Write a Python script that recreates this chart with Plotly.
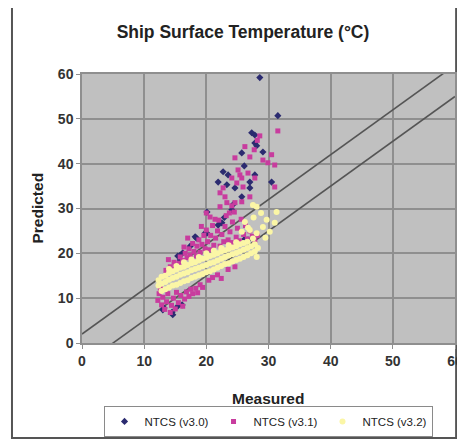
import plotly.graph_objects as go

# ---- data ----
v30_x = [28.6, 31.5, 27.3, 27.8, 27.8, 28.1, 25.7, 29.1, 22.7, 23.5, 27.8, 27.0, 27.0, 21.9, 23.3,
         24.6, 30.5, 25.7, 20.1, 24.1, 22.5, 21.9, 19.8, 18.2, 26.7, 15.8, 16.2, 18.4, 20.1, 15.4,
         15.8, 26.2, 13.0, 14.5, 16.1, 15.4, 14.6, 13.2, 24.4, 26.1, 22.9, 17.4]
v30_y = [59.2, 50.7, 46.9, 46.4, 44.6, 44.0, 42.4, 42.6, 38.2, 37.5, 37.5, 35.9, 34.6, 35.9, 35.3,
         34.6, 35.9, 32.6, 29.2, 29.7, 26.8, 26.3, 24.5, 23.7, 23.0, 19.6, 20.1, 23.4, 24.5, 19.4,
         18.5, 23.2, 7.4, 6.9, 8.5, 8.2, 6.3, 7.8, 31.0, 39.5, 28.0, 21.6]

v31_x = [12.2, 12.4, 12.8, 13.0, 13.3, 13.6, 13.8, 14.2, 14.4, 14.7, 15.0, 15.2, 15.5, 15.9, 16.2,
         16.5, 16.8, 17.2, 17.5, 17.8, 18.3, 18.6, 19.0, 19.4, 20.4, 21.0, 21.8, 22.4, 23.5, 24.6,
         13.5, 14.2, 14.8, 15.0, 15.6, 15.8, 16.2, 16.6, 16.9, 17.2, 17.4, 17.8, 18.0, 18.4, 18.5,
         18.8, 19.0, 19.3, 19.6, 19.8, 20.0, 20.2, 20.5, 20.7, 21.0, 21.2, 21.5, 21.8, 22.0, 22.2,
         22.5, 22.8, 23.0, 23.2, 23.5, 23.8, 24.0, 24.2, 24.5, 24.8, 25.0, 25.3, 25.6, 26.0, 26.3,
         26.6, 27.0, 27.4, 27.8, 28.2,
         24.6, 27.0, 29.1, 30.5, 31.0, 25.1, 25.4, 26.7, 24.1, 25.7, 27.8, 22.7, 24.9, 25.9, 31.0,
         22.2, 23.0, 23.3, 24.6, 27.0, 24.1, 25.7, 20.6, 21.4, 23.7, 31.5, 28.6, 27.7, 29.9, 26.2,
         28.2, 22.2, 20.0, 19.2, 17.0, 16.4, 13.9, 12.6]
v31_y = [9.5, 11.0, 8.5, 10.2, 7.5, 9.2, 11.0, 6.8, 8.4, 10.0, 7.6, 11.3, 9.0, 10.6, 8.2,
         9.8, 11.4, 10.4, 12.0, 11.0, 12.2, 11.2, 13.0, 12.4, 14.0, 14.6, 15.2, 14.4, 16.4, 17.0,
         16.2, 17.0, 18.0, 16.8, 17.8, 19.2, 18.4, 20.0, 19.0, 21.0, 19.6, 22.2, 20.4, 19.4, 21.6,
         23.0, 20.2, 22.0, 24.0, 21.0, 25.2, 22.6, 20.8, 24.0, 26.2, 21.8, 23.4, 25.0, 27.4, 21.6,
         24.2, 22.6, 26.0, 28.4, 23.0, 24.8, 22.4, 27.0, 29.2, 23.6, 25.6, 22.8, 27.6, 24.2, 26.2,
         23.2, 25.0, 23.8, 22.8, 24.0,
         41.3, 41.5, 40.8, 42.0, 39.7, 38.6, 37.5, 37.9, 36.8, 36.8, 36.8, 34.6, 35.7, 34.8, 34.8,
         33.5, 32.6, 31.3, 31.3, 32.6, 30.6, 31.5, 28.1, 27.6, 29.0, 47.3, 46.2, 43.1, 40.2, 43.8,
         45.2, 30.4, 29.0, 26.0, 23.4, 21.4, 18.6, 12.2]

v32_x = [12.3, 12.3, 12.8, 12.8, 12.8, 13.4, 13.4, 13.4, 14.0, 14.0, 14.0, 14.0, 14.6, 14.6, 14.6,
         15.2, 15.2, 15.2, 15.2, 15.8, 15.8, 15.8, 16.4, 16.4, 16.4, 16.4, 17.0, 17.0, 17.0,
         17.6, 17.6, 17.6, 17.6, 18.2, 18.2, 18.2, 18.8, 18.8, 18.8, 18.8, 19.4, 19.4, 19.4,
         20.0, 20.0, 20.0, 20.0, 20.6, 20.6, 20.6, 21.2, 21.2, 21.2, 21.2, 21.8, 21.8, 21.8,
         22.4, 22.4, 22.4, 22.4, 23.0, 23.0, 23.0, 23.6, 23.6, 23.6, 23.6, 24.2, 24.2, 24.2,
         24.8, 24.8, 24.8, 24.8, 25.4, 25.4, 25.4, 26.0, 26.0, 26.0, 26.6, 26.6, 26.6, 27.2, 27.2,
         27.8, 27.8,
         28.1, 31.3, 29.7, 29.1, 31.0, 28.1, 27.0, 26.7, 28.3, 25.7, 29.5, 30.2, 27.6, 28.8, 26.2,
         27.5, 28.1, 27.5]
v32_y = [12.8, 14.0, 11.6, 13.2, 14.8, 12.0, 13.6, 15.0, 12.4, 14.1, 15.6, 16.5, 12.8, 14.5, 16.0,
         13.0, 14.8, 16.4, 17.2, 13.4, 15.2, 16.8, 13.8, 15.5, 17.0, 18.0, 14.0, 15.8, 17.4,
         14.5, 16.2, 17.8, 18.6, 14.8, 16.5, 18.0, 15.1, 16.8, 18.4, 19.2, 15.4, 17.1, 18.8,
         15.8, 17.4, 19.0, 20.0, 16.0, 17.8, 19.4, 16.4, 18.0, 19.7, 20.6, 16.8, 18.4, 20.0,
         17.2, 18.8, 20.4, 21.2, 17.6, 19.2, 20.7, 17.8, 19.5, 21.0, 21.8, 18.2, 19.8, 21.3,
         18.5, 20.1, 21.6, 22.5, 18.8, 20.4, 22.0, 19.2, 20.8, 22.3, 19.6, 21.2, 22.6, 20.0, 21.6,
         20.4, 22.0,
         30.4, 29.2, 27.5, 25.9, 26.8, 24.5, 25.2, 25.7, 21.2, 24.8, 23.5, 24.8, 28.0, 29.0, 27.0,
         23.3, 19.2, 30.8]

ref_x = [0, 60]
upper_y = [2, 62]
lower_y = [-5, 55]

x_ticks = [0, 10, 20, 30, 40, 50, 60]
y_ticks = [0, 10, 20, 30, 40, 50, 60]

FONT = "Arial, Liberation Sans, sans-serif"

fig = go.Figure()
fig.add_trace(go.Scatter(x=ref_x, y=upper_y, mode="lines", showlegend=False,
                         line=dict(color="#555555", width=1.6), hoverinfo="skip"))
fig.add_trace(go.Scatter(x=ref_x, y=lower_y, mode="lines", showlegend=False,
                         line=dict(color="#555555", width=1.6), hoverinfo="skip"))
fig.add_trace(go.Scatter(x=v30_x, y=v30_y, mode="markers", name="NTCS (v3.0)",
                         marker=dict(color="#2b2b70", size=5.5, symbol="diamond")))
fig.add_trace(go.Scatter(x=v31_x, y=v31_y, mode="markers", name="NTCS (v3.1)",
                         marker=dict(color="#c83c9e", size=5, symbol="square")))
fig.add_trace(go.Scatter(x=v32_x, y=v32_y, mode="markers", name="NTCS (v3.2)",
                         marker=dict(color="#fbf6a6", size=6, symbol="circle")))

axis_common = dict(
    range=[0, 60], tickvals=x_ticks, showgrid=True, gridcolor="#8f8f8f", gridwidth=1.5,
    zeroline=False, showline=True, linecolor="#8f8f8f", linewidth=1.5, mirror=True,
    ticks="outside", ticklen=4, tickcolor="#8f8f8f", automargin=False,
    tickfont=dict(family=FONT, size=14, color="#333333", weight="bold"),
)
fig.update_xaxes(**axis_common)
fig.update_yaxes(**{**axis_common, "tickvals": y_ticks})

# page body has an 8px margin, so the figure is 8px smaller than the window
W, H = 457, 433
fig.update_layout(
    width=W, height=H,
    margin=dict(l=74, r=10, t=66, b=98, autoexpand=False),
    paper_bgcolor="white", plot_bgcolor="#c0c0c0",
    font=dict(family=FONT, color="#222222"),
    title=dict(text="<b>Ship Surface Temperature (°C)</b>", x=235 / W, xref="container",
               xanchor="center", y=1 - 24 / H, yref="container", yanchor="middle",
               font=dict(family=FONT, size=17.5, color="#222222")),
    showlegend=True,
    legend=dict(orientation="h", x=0.4987, xanchor="center", y=-0.349, yanchor="bottom",
                bgcolor="white", bordercolor="#8a8a8a", borderwidth=1,
                entrywidth=64, entrywidthmode="pixels",
                font=dict(family=FONT, size=11.5, color="#222222")),
    shapes=[dict(type="rect", xref="paper", yref="paper", x0=-0.1877, x1=1.003,
                 y0=-0.353, y1=1.26, line=dict(color="#555555", width=2), layer="below")],
    annotations=[
        dict(text="<b>Predicted</b>", xref="paper", yref="paper", x=-0.1206, y=0.5,
             textangle=-90, showarrow=False, font=dict(family=FONT, size=15.5, color="#222222"),
             xanchor="center", yanchor="middle"),
        dict(text="<b>Measured</b>", xref="paper", yref="paper", x=0.4987, y=-0.207,
             showarrow=False, font=dict(family=FONT, size=15.5, color="#222222"),
             xanchor="center", yanchor="middle"),
    ],
)

fig.write_html("out.html")
